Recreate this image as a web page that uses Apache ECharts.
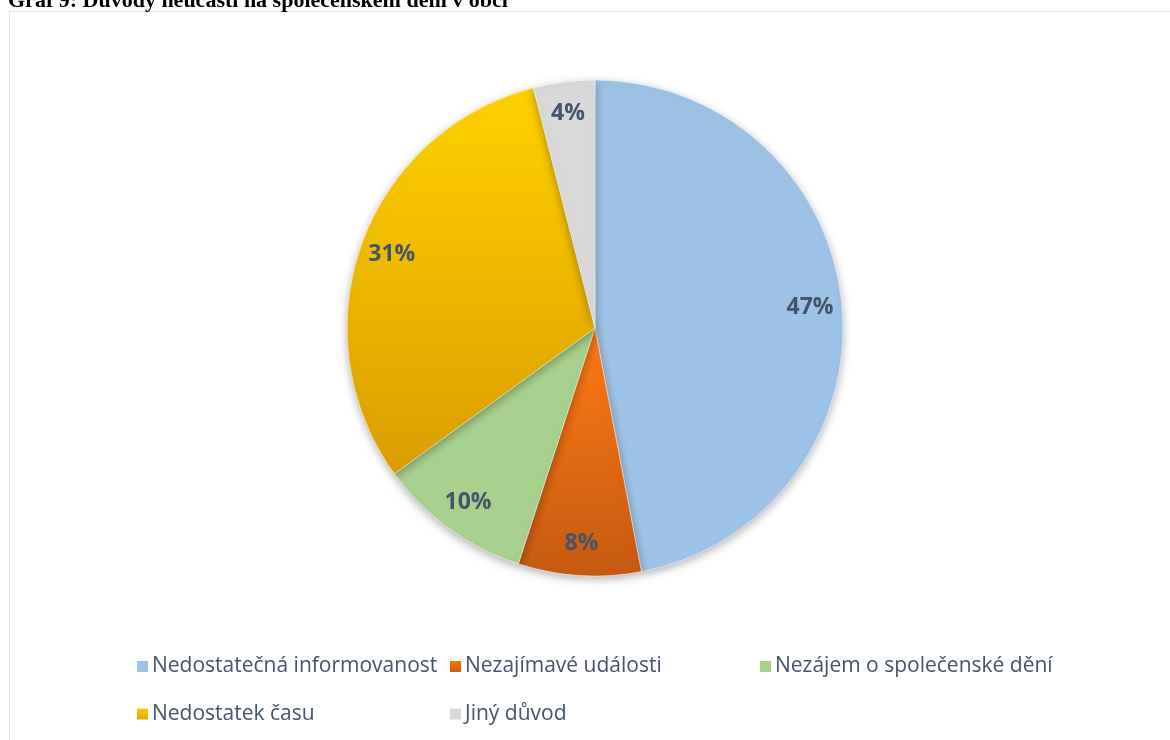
<!DOCTYPE html>
<html>
<head>
<meta charset="utf-8">
<script src="https://cdn.jsdelivr.net/npm/echarts@6/dist/echarts.min.js"></script>
<style>
html,body{margin:0;padding:0;background:#fff;}
#c{width:1170px;height:740px;}
</style>
</head>
<body>
<div id="c"></div>
<script>
const titleText = 'Graf 9: Důvody neúčasti na společenském dění v obci';
const categories = ['Nedostatečná informovanost', 'Nezajímavé události', 'Nezájem o společenské dění', 'Nedostatek času', 'Jiný důvod'];
const values = [47, 8, 10, 31, 4];

const grad = (a, b) => new echarts.graphic.LinearGradient(0, 0, 0, 1, [{offset: 0, color: a}, {offset: 1, color: b}]);
const colors = [
  '#9DC3E6',
  grad('#FF7A14', '#C55A11'),
  '#A9D18E',
  grad('#FFD200', '#DB9E00'),
  '#D9D9D9'
];

const chart = echarts.init(document.getElementById('c'), null, {renderer: 'canvas'});
const data = categories.map((n, i) => ({name: n, value: values[i], itemStyle: {color: colors[i]}}));
const labelData = categories.map((n, i) => ({name: n, value: values[i]}));

const legendBase = {
  orient: 'vertical',
  padding: 0,
  itemWidth: 13, itemHeight: 13, itemGap: 26.5,
  icon: 'rect',
  textStyle: {fontFamily: 'Open Sans', fontSize: 21, color: '#44546A', padding: [0, 0, 0, -2]},
  selectedMode: false,
  top: 656
};

chart.setOption({
  animation: false,
  title: {
    text: titleText, left: 3, top: -15,
    textStyle: {fontFamily: 'Liberation Serif', fontWeight: 'bold', fontSize: 22, color: '#000'}
  },
  graphic: [{
    type: 'rect', shape: {x: 9.5, y: 11.5, width: 1200, height: 800},
    style: {fill: 'none', stroke: '#DDE3EA', lineWidth: 1}, silent: true, z: -10
  }],
  legend: [
    Object.assign({}, legendBase, {left: 135, data: [categories[0], categories[3]]}),
    Object.assign({}, legendBase, {left: 448, data: [categories[1], categories[4]]}),
    Object.assign({}, legendBase, {left: 758, data: [categories[2]]})
  ],
  series: [{
    type: 'pie',
    center: [595, 328],
    radius: [0, 248],
    startAngle: 90,
    clockwise: true,
    data: data,
    label: {show: false},
    labelLine: {show: false},
    itemStyle: {borderColor: '#fff', borderWidth: 0.5, shadowBlur: 10, shadowColor: 'rgba(0,0,0,0.3)', shadowOffsetY: 3},
    emphasis: {disabled: true}
  }, {
    type: 'pie',
    center: [595, 328],
    radius: [178, 248],
    startAngle: 90,
    clockwise: true,
    data: labelData,
    itemStyle: {color: 'rgba(0,0,0,0)'},
    label: {
      show: true, position: 'inside', formatter: '{c}%',
      fontFamily: 'Open Sans', fontWeight: 'bold', fontSize: 23, color: '#44546A'
    },
    labelLine: {show: false},
    legendHoverLink: false,
    emphasis: {disabled: true},
    silent: true,
    z: 3
  }]
});
</script>
</body>
</html>
